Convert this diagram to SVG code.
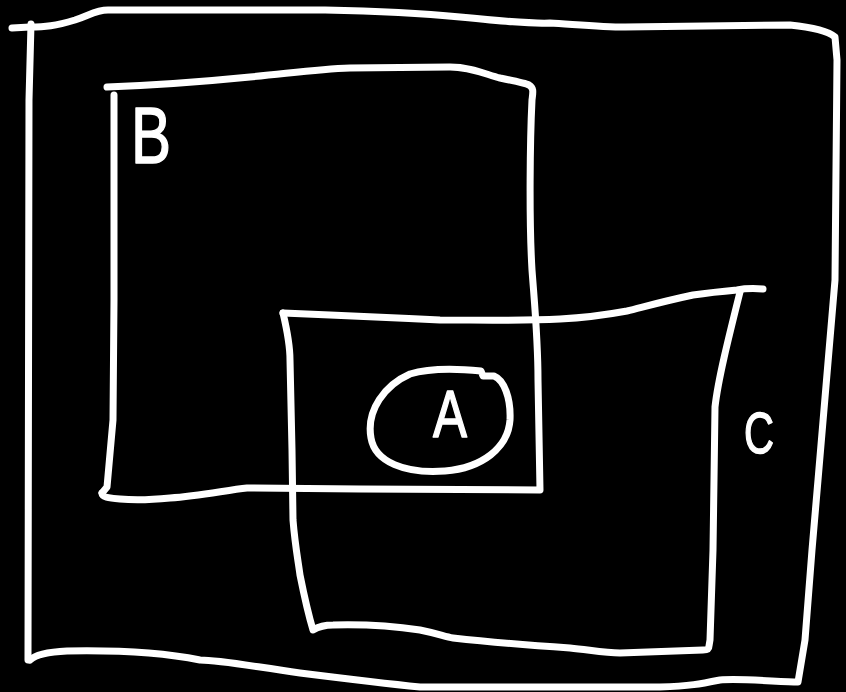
<svg xmlns="http://www.w3.org/2000/svg" width="846" height="692" viewBox="0 0 846 692">
  <style>
    .ink { fill: none; stroke: #ffffff; stroke-width: 7; stroke-linecap: round; stroke-linejoin: round; }
    .lbl { fill: #ffffff; font-family: "Liberation Sans", "DejaVu Sans", sans-serif; stroke: #ffffff; stroke-width: 1.5; stroke-linejoin: round; }
  </style>
  <rect x="0" y="0" width="846" height="692" fill="#000000"/>
  <g id="outer">
    <path class="ink" d="M 12,28 L 30,27 C 45,27 55,26 75,20 C 90,15 96,10 108,10 L 325,10 C 380,11 420,13 460,17 C 500,21 530,24 550,23 C 570,24 600,27 625,27 L 790,25 C 810,27 828,31 835,37 L 837,60 L 835,280 L 818,480 L 812,550 L 805,640 L 798,682 C 780,682 740,678 720,680 C 700,684 690,686 660,687 L 420,687 C 380,683 340,678 300,673 C 250,666 220,660 200,660 C 160,652 120,650 67,651 C 45,652 35,655 30,660"/>
    <path class="ink" d="M 31,24 L 29,100 L 28,660"/>
  </g>
  <g id="B">
    <path class="ink" d="M 107,87 C 160,85 200,82 250,77 C 300,72 320,69 350,68 L 450,67 C 470,67 485,74 500,78 C 515,81 525,83 529,85 C 534,88 533,92 532,100 C 530,140 529,220 532,270 C 535,310 538,340 538,380 L 540,490 L 360,489 L 247,488 C 227,490 200,496 170,498 C 150,500 130,500 120,499 C 108,498 102,497 102,493"/>
    <path class="ink" d="M 114,95 L 114,300 L 113,420 L 107,487 L 102,493"/>
    <text class="lbl" x="131" y="163" font-size="80" textLength="40" lengthAdjust="spacingAndGlyphs">B</text>
  </g>
  <g id="C">
    <path class="ink" d="M 763,289 C 750,288 742,289 737,290 C 715,292 700,294 693,295 C 660,302 640,308 627,311 C 600,316 580,318 560,319 C 520,321 480,320 440,320 C 400,318 350,316 330,315 L 283,313"/>
    <path class="ink" d="M 283,313 C 287,330 290,345 290,360 L 292,450 L 293,520 C 295,545 298,560 300,575 C 305,600 310,620 313,630 C 318,627 325,625 333,625 C 370,624 400,627 420,630 C 440,634 445,637 453,638 C 480,641 540,646 570,648 C 590,650 605,653 620,653 L 703,650 C 707,650 709,649 709,646 L 710,640 L 713,550 L 714,480 L 715,407 C 718,380 728,340 740,292"/>
    <text class="lbl" x="744" y="453" font-size="57" textLength="30" lengthAdjust="spacingAndGlyphs">C</text>
  </g>
  <g id="A">
    <path class="ink" d="M 481,371 L 483,376 L 494,376 C 504,380 511,398 510,420 C 508,448 482,468 445,471 C 405,474 375,462 371,438 C 366,410 385,385 410,374 C 430,368 460,369 481,371 Z"/>
    <text class="lbl" x="433" y="437" font-size="66" textLength="34" lengthAdjust="spacingAndGlyphs">A</text>
  </g>
  <g id="connectors"/>
</svg>
